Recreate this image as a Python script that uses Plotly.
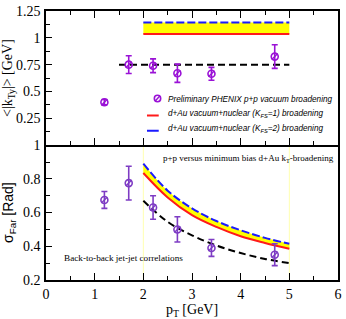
import plotly.graph_objects as go

# ---- data ----
pt_pts = [1.2, 1.7, 2.2, 2.7, 3.4, 4.7]
kty_vals = [0.40, 0.75, 0.74, 0.67, 0.665, 0.825]
kty_err = [0.025, 0.083, 0.064, 0.085, 0.06, 0.11]

kty_pp_x = [1.5, 5.0]
kty_pp_y = [0.75, 0.75]
band_x = [2.0, 5.0]
kty_k1 = [1.035, 1.035]
kty_k2 = [1.142, 1.142]

sig_vals = [0.675, 0.775, 0.63, 0.50, 0.39, 0.35]
sig_err = [0.05, 0.10, 0.07, 0.075, 0.05, 0.065]

curve_pt = [2.0, 2.5, 3.0, 3.5, 4.0, 4.5, 5.0]
sig_k1 = [0.835, 0.69, 0.585, 0.515, 0.46, 0.42, 0.385]
sig_k2 = [0.89, 0.73, 0.625, 0.55, 0.495, 0.45, 0.415]
sig_pp = [0.67, 0.545, 0.465, 0.405, 0.36, 0.325, 0.30]

top_ticks = [0.25, 0.5, 0.75, 1.0, 1.25]
top_ticktext = ["0.25", "0.5", "0.75", "1", "1.25"]
bot_ticks = [0.2, 0.4, 0.6, 0.8, 1.0]
bot_ticktext = ["0.2", "0.4", "0.6", "0.8", "1"]

PURPLE_T = "#9a12d6"
PURPLE_B = "#7e3cc4"
RED = "#ff1a1a"
BLUE = "#1a1aff"
YELLOW = "#ffff00"
SERIF = "Liberation Serif, Times New Roman, serif"
SANS = "Liberation Sans, Arial, sans-serif"

fig = go.Figure()

# ---- top panel ----
fig.add_trace(go.Scatter(x=band_x, y=kty_k1, mode="lines", line=dict(color=RED, width=2),
                         xaxis="x2", yaxis="y2", showlegend=False))
fig.add_trace(go.Scatter(x=band_x, y=kty_k2, mode="lines", line=dict(color=BLUE, width=2, dash="8px,3px"),
                         fill="tonexty", fillcolor=YELLOW, xaxis="x2", yaxis="y2", showlegend=False))
fig.add_trace(go.Scatter(x=kty_pp_x, y=kty_pp_y, mode="lines", line=dict(color="black", width=2, dash="7px,4px"),
                         xaxis="x2", yaxis="y2", showlegend=False))
fig.add_trace(go.Scatter(x=pt_pts, y=kty_vals, mode="markers",
                         error_y=dict(type="data", array=kty_err, color=PURPLE_T, thickness=1.6, width=3),
                         marker=dict(symbol="circle-open", size=7, color=PURPLE_T, line=dict(width=1.6)),
                         xaxis="x2", yaxis="y2", showlegend=False))
fig.add_trace(go.Scatter(x=pt_pts, y=kty_vals, mode="markers",
                         marker=dict(symbol="line-ne", size=6, color=PURPLE_T, line=dict(width=1.4, color=PURPLE_T)),
                         xaxis="x2", yaxis="y2", showlegend=False))

# ---- bottom panel ----
fig.add_trace(go.Scatter(x=curve_pt, y=sig_k1, mode="lines", line=dict(color=RED, width=2, shape="spline"),
                         showlegend=False))
fig.add_trace(go.Scatter(x=curve_pt, y=sig_k2, mode="lines",
                         line=dict(color=BLUE, width=2, dash="8px,3px", shape="spline"),
                         fill="tonexty", fillcolor=YELLOW, showlegend=False))
fig.add_trace(go.Scatter(x=curve_pt, y=sig_pp, mode="lines",
                         line=dict(color="black", width=2, dash="7px,4px", shape="spline"), showlegend=False))
fig.add_trace(go.Scatter(x=pt_pts, y=sig_vals, mode="markers",
                         error_y=dict(type="data", array=sig_err, color=PURPLE_B, thickness=1.6, width=3),
                         marker=dict(symbol="circle-open", size=7, color=PURPLE_B, line=dict(width=1.6)),
                         showlegend=False))
fig.add_trace(go.Scatter(x=pt_pts, y=sig_vals, mode="markers",
                         marker=dict(symbol="line-ne", size=6, color=PURPLE_B, line=dict(width=1.4, color=PURPLE_B)),
                         showlegend=False))

# faint band edges in lower panel
for xv in band_x:
    fig.add_shape(type="line", x0=xv, x1=xv, y0=0, y1=1, xref="x", yref="y domain",
                  line=dict(color="#ffffb0", width=1), layer="below")

# ---- manual legend (top panel) ----
def dom(px):
    return (px - 43.3) / 298.4

fig.add_shape(type="circle", xref="x2 domain", yref="y2", x0=dom(154), x1=dom(160.5), y0=0.405, y1=0.465,
              line=dict(color=PURPLE_T, width=1.6))
fig.add_shape(type="line", xref="x2 domain", yref="y2", x0=dom(154.7), x1=dom(159.8), y0=0.41, y1=0.46,
              line=dict(color=PURPLE_T, width=1.4))
fig.add_shape(type="line", xref="x2 domain", yref="y2", x0=dom(146.5), x1=dom(158.5), y0=0.276, y1=0.276,
              line=dict(color=RED, width=2))
fig.add_shape(type="line", xref="x2 domain", yref="y2", x0=dom(146.5), x1=dom(158.5), y0=0.135, y1=0.135,
              line=dict(color=BLUE, width=2))

leg_font = dict(family=SANS, size=8.2, color="black", style="italic")
annos = [
    dict(text="Preliminary PHENIX p+p vacuum broadening", x=dom(165.5), y=0.43),
    dict(text="d+Au vacuum+nuclear (K<sub>FS</sub>=1) broadening", x=dom(165.5), y=0.29),
    dict(text="d+Au vacuum+nuclear (K<sub>FS</sub>=2) broadening", x=dom(165.5), y=0.155),
]
for a in annos:
    fig.add_annotation(text=a["text"], x=a["x"], y=a["y"], xref="x2 domain", yref="y2",
                       xanchor="left", yanchor="middle", showarrow=False, font=leg_font)

fig.add_annotation(text="p+p versus minimum bias d+Au k<sub>T</sub>-broadening", x=dom(161), y=0.918,
                   xref="x domain", yref="y", xanchor="left", yanchor="middle", showarrow=False,
                   font=dict(family=SERIF, size=9, color="black"))
fig.add_annotation(text="Back-to-back jet-jet correlations", x=dom(59.5), y=0.333,
                   xref="x domain", yref="y", xanchor="left", yanchor="middle", showarrow=False,
                   font=dict(family=SERIF, size=9.2, color="black"))

split = 136.7 / 272.7
tickfont = dict(family=SERIF, size=14, color="black")
common_x = dict(range=[0, 6], dtick=1, tick0=0, ticks="inside", ticklen=7, tickwidth=1.2, tickcolor="black",
                showline=True, linecolor="black", linewidth=1.5, showgrid=False, zeroline=False,
                minor=dict(dtick=0.5, tick0=0, ticks="inside", ticklen=4, tickwidth=1.2, tickcolor="black", showgrid=False))

fig.update_layout(
    width=346, height=319,
    margin=dict(l=43, r=4, t=7, b=39),
    paper_bgcolor="white", plot_bgcolor="white",
    showlegend=False,
    xaxis=dict(**common_x, anchor="y", domain=[0, 1], mirror=False, tickfont=tickfont,
               title=dict(text="p<sub>T</sub> [GeV]", font=dict(family=SERIF, size=14, color="black"), standoff=4)),
    xaxis2=dict(**common_x, anchor="y2", matches="x", showticklabels=False, mirror="ticks"),
    yaxis=dict(domain=[0, split], range=[0.2, 1.0], tickvals=bot_ticks, ticktext=bot_ticktext,
               ticks="inside", ticklen=6, tickwidth=1.2, tickcolor="black", tickfont=tickfont,
               minor=dict(dtick=0.1, tick0=0, ticks="inside", ticklen=4, tickwidth=1.2, tickcolor="black", showgrid=False),
               showline=True, linecolor="black", linewidth=1.5, mirror=True, showgrid=False, zeroline=False,
               ticklabelstandoff=1,
               title=dict(text="σ<sub>Far</sub> [Rad]", font=dict(family=SANS, size=14, color="black"), standoff=6)),
    yaxis2=dict(domain=[split, 1], range=[0, 1.25], tickvals=top_ticks, ticktext=top_ticktext,
                ticks="inside", ticklen=6, tickwidth=1.2, tickcolor="black", tickfont=tickfont, anchor="x2",
                minor=dict(dtick=0.125, tick0=0, ticks="inside", ticklen=4, tickwidth=1.2, tickcolor="black", showgrid=False),
                showline=True, linecolor="black", linewidth=1.5, mirror=True, showgrid=False, zeroline=False,
                ticklabelstandoff=1,
                title=dict(text="<|k<sub>Ty</sub>|> [GeV]", font=dict(family=SERIF, size=14, color="black"), standoff=2)),
)

fig.write_html("out.html", config={"displayModeBar": False},
               post_script="document.body.style.margin='0';document.body.style.overflow='hidden';")
